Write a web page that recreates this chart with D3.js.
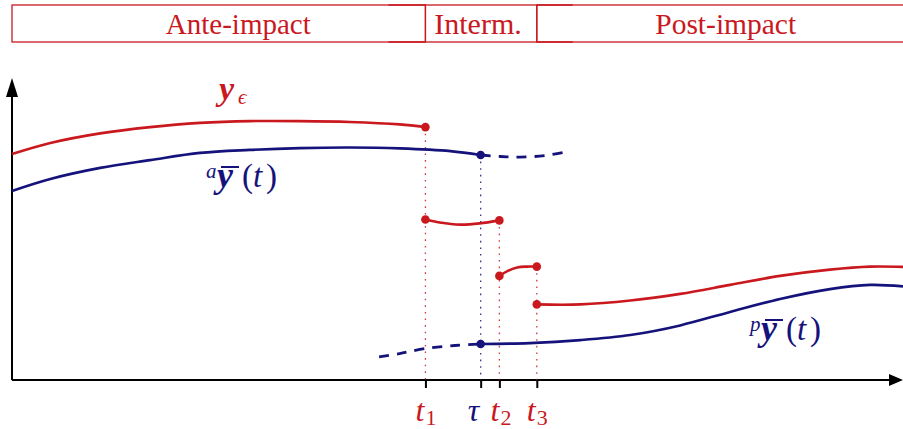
<!DOCTYPE html>
<html>
<head>
<meta charset="utf-8">
<script src="https://cdn.jsdelivr.net/npm/d3@7"></script>
</head>
<body style="margin:0;background:#fff">
<svg id="chart" width="903" height="429" font-family="Liberation Serif"></svg>
<script>
// ---- data -------------------------------------------------------------
const phaseNames  = ["Ante-impact", "Interm.", "Post-impact"];
const phaseBounds = [0, 4.64, 5.89, 10.2];

const tickNames = ["t", "τ", "t", "t"];
const tickSubs  = ["1", "", "2", "3"];
const tickTimes = [4.64, 5.26, 5.47, 5.89];

// perturbed trajectory y_eps, ante-impact
const redAnteT = [0, 0.43, 0.99, 1.55, 2.11, 2.67, 3.23, 3.79, 4.35, 4.64];
const redAnteV = [7.53, 7.9, 8.22, 8.43, 8.57, 8.63, 8.63, 8.6, 8.52, 8.43];
// y_eps, first intermediate arc
const redInt1T = [4.64, 4.8, 5.03, 5.25, 5.47];
const redInt1V = [5.35, 5.25, 5.18, 5.22, 5.32];
// y_eps, second intermediate arc
const redInt2T = [5.47, 5.56, 5.67, 5.78, 5.89];
const redInt2V = [3.47, 3.63, 3.75, 3.78, 3.78];
// y_eps, post-impact
const redPostT = [5.89, 6.38, 6.94, 7.5, 8.06, 8.62, 9.18, 9.63, 10];
const redPostV = [2.52, 2.52, 2.65, 2.87, 3.17, 3.47, 3.68, 3.78, 3.77];

// nominal ante-impact trajectory and its extension past tau
const blueAnteT = [0, 0.43, 0.99, 1.55, 2.11, 2.67, 3.23, 3.79, 4.35, 4.92, 5.26];
const blueAnteV = [6.3, 6.7, 7.07, 7.33, 7.57, 7.67, 7.73, 7.75, 7.72, 7.63, 7.5];
const blueAnteExtT = [5.26, 5.48, 5.7, 5.98, 6.22];
const blueAnteExtV = [7.5, 7.45, 7.43, 7.48, 7.6];

// nominal post-impact trajectory and its extension before tau
const bluePostExtT = [4.12, 4.35, 4.64, 4.97, 5.26];
const bluePostExtV = [0.77, 0.88, 1.05, 1.15, 1.2];
const bluePostT = [5.26, 5.81, 6.38, 6.94, 7.5, 8.06, 8.62, 9.18, 9.63, 10];
const bluePostV = [1.2, 1.23, 1.33, 1.5, 1.82, 2.27, 2.7, 3.03, 3.17, 3.12];

// ---- setup ------------------------------------------------------------
const RED = "#c9191f";
const BLUE = "#15137b";
const SERIF = "Liberation Serif";

const svg = d3.select("#chart");
const x = d3.scaleLinear().domain([0, 10]).range([12, 903]);
const y = d3.scaleLinear().domain([0, 10]).range([380, 80]);

const zip = (ts, vs) => ts.map((t, i) => [t, vs[i]]);
const curveGen = d3.line().x(d => x(d[0])).y(d => y(d[1])).curve(d3.curveCatmullRom.alpha(0.5));

// ---- small text helper --------------------------------------------------------
function glyph(px, py, str, color, opts = {}) {
  return svg.append("text")
    .attr("x", px).attr("y", py)
    .attr("font-family", SERIF)
    .attr("font-size", opts.size || 30)
    .attr("font-style", opts.italic ? "italic" : null)
    .attr("font-weight", opts.bold ? "bold" : null)
    .attr("text-anchor", opts.anchor || "start")
    .attr("fill", color)
    .text(str);
}

// ---- phase boxes along the top -------------------------------------------
const boxTop = 5, boxBottom = 42;
const boxes = svg.append("g");
phaseNames.forEach((name, i) => {
  const x0 = x(phaseBounds[i]), x1 = x(phaseBounds[i + 1]);
  boxes.append("rect")
    .attr("x", x0).attr("y", boxTop)
    .attr("width", x1 - x0).attr("height", boxBottom - boxTop)
    .attr("fill", "none").attr("stroke", RED).attr("stroke-width", 1.3);
});
// overlapping edges of neighbouring boxes
[[x(phaseBounds[1]) - 37, x(phaseBounds[1])], [x(phaseBounds[2]), x(phaseBounds[2]) + 36]].forEach(([a, b]) => {
  [boxTop, boxBottom].forEach(yy => {
    boxes.append("line").attr("x1", a).attr("x2", b).attr("y1", yy).attr("y2", yy)
      .attr("stroke", RED).attr("stroke-width", 1.7);
  });
});
const labelCenters = [2.54, 5.23, 8.01];
const labelSizes = [29, 30, 29.5];
phaseNames.forEach((name, i) => {
  glyph(x(labelCenters[i]), 34, name, RED, { size: labelSizes[i], anchor: "middle" });
});

// ---- axes -----------------------------------------------------------------
const axes = svg.append("g");
axes.append("line").attr("x1", x(0)).attr("x2", 892).attr("y1", y(0)).attr("y2", y(0))
  .attr("stroke", "#000").attr("stroke-width", 2);
axes.append("path").attr("d", `M903,${y(0)} L889,${y(0) - 6} L889,${y(0) + 6} Z`).attr("fill", "#000");
axes.append("line").attr("x1", x(0)).attr("x2", x(0)).attr("y1", y(0)).attr("y2", 94)
  .attr("stroke", "#000").attr("stroke-width", 2);
axes.append("path").attr("d", `M${x(0)},78 L${x(0) - 6},97 L${x(0) + 6},97 Z`).attr("fill", "#000");

const tickAxis = d3.axisBottom(x).tickValues(tickTimes).tickSize(8).tickFormat("");
const tg = svg.append("g").attr("transform", `translate(0,${y(0)})`).call(tickAxis);
tg.select(".domain").remove();
tg.selectAll(".tick text").remove();
tg.selectAll(".tick line").attr("stroke", "#000").attr("stroke-width", 2);

// ---- dotted drop lines ------------------------------------------------------
const dropTops = [redAnteV[redAnteV.length - 1], blueAnteV[blueAnteV.length - 1],
                  redInt1V[redInt1V.length - 1], redInt2V[redInt2V.length - 1]];
const dropColors = [RED, BLUE, RED, RED];
tickTimes.forEach((t, i) => {
  svg.append("line")
    .attr("x1", x(t)).attr("x2", x(t))
    .attr("y1", y(dropTops[i])).attr("y2", y(0))
    .attr("stroke", dropColors[i]).attr("stroke-width", 1.3)
    .attr("stroke-dasharray", "1.6,5").attr("opacity", 0.85);
});

// ---- curves -----------------------------------------------------------------
const curves = [
  { d: zip(blueAnteExtT, blueAnteExtV), c: BLUE, dash: "10,8" },
  { d: zip(bluePostExtT, bluePostExtV), c: BLUE, dash: "10,8" },
  { d: zip(blueAnteT, blueAnteV), c: BLUE },
  { d: zip(bluePostT, bluePostV), c: BLUE },
  { d: zip(redAnteT, redAnteV), c: RED },
  { d: zip(redInt1T, redInt1V), c: RED },
  { d: zip(redInt2T, redInt2V), c: RED },
  { d: zip(redPostT, redPostV), c: RED }
];
curves.forEach(s => {
  svg.append("path").attr("d", curveGen(s.d))
    .attr("fill", "none").attr("stroke", s.c)
    .attr("stroke-width", s.dash ? 2.8 : 2.6)
    .attr("stroke-dasharray", s.dash || null);
});

// ---- endpoint markers -------------------------------------------------------
const last = a => a[a.length - 1];
const dots = [
  [last(redAnteT), last(redAnteV), RED],
  [last(blueAnteT), last(blueAnteV), BLUE],
  [redInt1T[0], redInt1V[0], RED],
  [last(redInt1T), last(redInt1V), RED],
  [redInt2T[0], redInt2V[0], RED],
  [last(redInt2T), last(redInt2V), RED],
  [redPostT[0], redPostV[0], RED],
  [bluePostT[0], bluePostV[0], BLUE]
];
svg.append("g").selectAll("circle").data(dots).join("circle")
  .attr("cx", d => x(d[0])).attr("cy", d => y(d[1])).attr("r", 4.3)
  .attr("fill", d => d[2]);

// ---- tick labels ------------------------------------------------------------
const tickColors = [RED, BLUE, RED, RED];
const tickShift = [-10, -13, -9, -10];
tickTimes.forEach((t, i) => {
  const px = x(t) + tickShift[i];
  glyph(px, 421, tickNames[i], tickColors[i], { italic: true, size: 32 });
  if (tickSubs[i]) glyph(px + 10, 425, tickSubs[i], tickColors[i], { size: 22 });
});

// ---- curve labels -----------------------------------------------------------
// y_eps
glyph(219, 100, "y", RED, { bold: true, italic: true, size: 34 });
glyph(238, 104, "ϵ", RED, { italic: true, size: 21 });

// nominal-trajectory labels: superscript prefix, barred bold y, (t)
function trajLabel(px, py, prefix) {
  glyph(px, py - 9, prefix, BLUE, { italic: true, size: 21 });
  glyph(px + 11, py, "y", BLUE, { bold: true, italic: true, size: 36 });
  svg.append("line")
    .attr("x1", px + 15).attr("x2", px + 33)
    .attr("y1", py - 20).attr("y2", py - 20)
    .attr("stroke", BLUE).attr("stroke-width", 2);
  glyph(px + 36, py, "(", BLUE, { size: 33 });
  glyph(px + 47, py, "t", BLUE, { italic: true, size: 33 });
  glyph(px + 60, py, ")", BLUE, { size: 33 });
}
trajLabel(206, 187, "a");
trajLabel(750, 340, "p");
</script>
</body>
</html>
